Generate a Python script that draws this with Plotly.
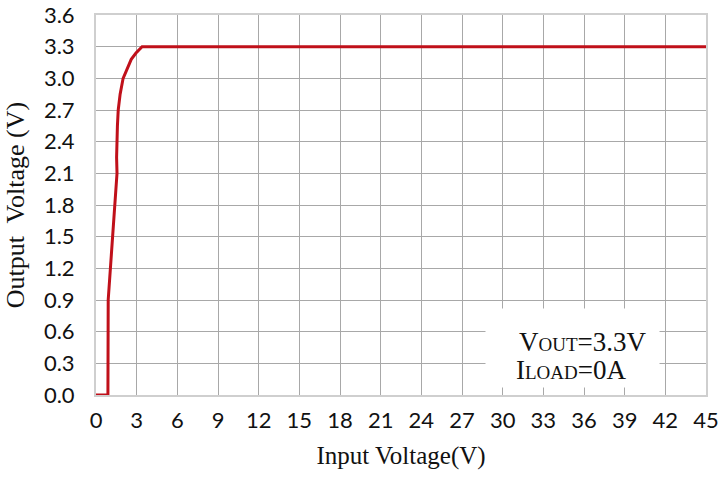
import plotly.graph_objects as go

# Data
vin = [0, 0.88, 0.9, 1.2, 1.55, 1.52, 1.53, 1.58, 1.64, 1.78, 2.0, 2.3, 2.6, 2.95, 3.4, 45]
vout = [0, 0, 0.9, 1.5, 2.1, 2.25, 2.4, 2.55, 2.7, 2.85, 3.0, 3.1, 3.18, 3.24, 3.3, 3.3]

x_ticks = [0, 3, 6, 9, 12, 15, 18, 21, 24, 27, 30, 33, 36, 39, 42, 45]
y_ticks = [0.0, 0.3, 0.6, 0.9, 1.2, 1.5, 1.8, 2.1, 2.4, 2.7, 3.0, 3.3, 3.6]

fig = go.Figure()
fig.add_trace(go.Scatter(
    x=vin, y=vout, mode="lines",
    line=dict(color="#c0101a", width=3),
    showlegend=False, hoverinfo="skip",
))

tick_font = dict(family="Lato, Open Sans, sans-serif", size=22, color="#111111")
title_font = dict(family="Liberation Serif, Times New Roman, serif", size=25, color="#111111")

fig.update_layout(
    width=719, height=478,
    margin=dict(l=96, r=13, t=15, b=83, autoexpand=False),
    paper_bgcolor="white", plot_bgcolor="white",
    xaxis=dict(
        range=[0, 45], tickvals=x_ticks, ticktext=[str(v) for v in x_ticks],
        showgrid=True, gridcolor="#a8a8a8", gridwidth=1, automargin=False,
        zeroline=False, showline=True, linecolor="#cfcfcf", linewidth=2, mirror=True,
        tickfont=tick_font, ticks="", ticklabelstandoff=5, ticklabeloverflow="allow",
        title=dict(text="Input Voltage(V)", font=title_font, standoff=14),
    ),
    yaxis=dict(
        range=[0, 3.6], tickvals=y_ticks, ticktext=[f"{v:.1f}" for v in y_ticks],
        showgrid=True, gridcolor="#a8a8a8", gridwidth=1, automargin=False,
        zeroline=False, showline=True, linecolor="#cfcfcf", linewidth=2, mirror=True,
        tickfont=tick_font, ticks="", ticklabelstandoff=15, ticklabeloverflow="allow",
        title=dict(text="Output  Voltage (V)", font=dict(title_font, size=26), standoff=12),
    ),
)

# white box behind the note
fig.add_annotation(xref="paper", yref="paper",
                   x=(485 - 96) / 610, y=(395 - 308) / 380,
                   xanchor="left", yanchor="top", showarrow=False,
                   text=" ", width=173, height=78, bgcolor="white", borderpad=0)

ann_font = dict(family="Liberation Serif, Times New Roman, serif", size=27, color="#111111")
fig.add_annotation(xref="paper", yref="paper", x=(517 - 96) / 610, y=(395 - 342) / 380,
                   xanchor="left", yanchor="middle", showarrow=False, font=ann_font,
                   text="V<span style='font-size:19px'>OUT</span>=3.3V")
fig.add_annotation(xref="paper", yref="paper", x=(514 - 96) / 610, y=(395 - 370) / 380,
                   xanchor="left", yanchor="middle", showarrow=False, font=ann_font,
                   text="I<span style='font-size:19px'>LOAD</span>=0A")

fig.write_html("out.html", config={"displayModeBar": False},
               post_script="document.body.style.margin='0';")
